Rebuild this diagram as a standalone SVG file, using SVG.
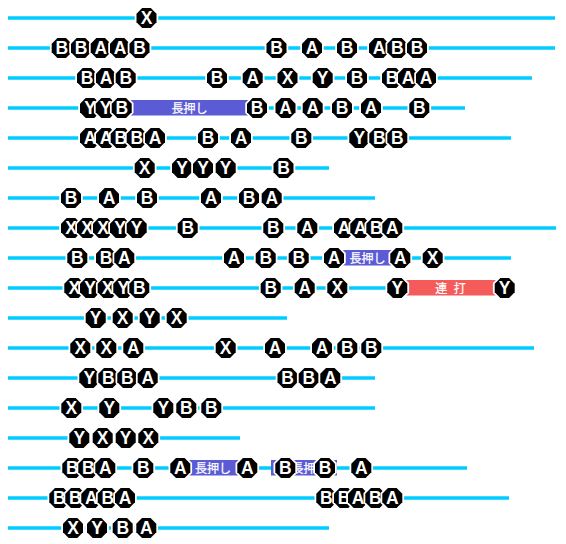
<svg xmlns="http://www.w3.org/2000/svg" width="566" height="544" viewBox="0 0 566 544">
<style>
.l{stroke:#00ccff;stroke-width:3.4;fill:none}
.o{fill:#000;stroke:#fff;stroke-width:3.6;paint-order:stroke}
.t{fill:#fff;font:bold 17.5px "Liberation Sans",Arial,sans-serif;text-anchor:middle}
.b{fill:#5b5bd6}
.r{fill:#f55b5b}
.j{fill:#fff;stroke:#fff;stroke-width:.25;font:12px "Noto Sans CJK JP",sans-serif;text-anchor:middle}
</style>
<defs><polygon id="o" points="-4.300,-10 4.300,-10 10,-4.300 10,4.300 4.300,10 -4.300,10 -10,4.300 -10,-4.300"/></defs>
<g id="connectors">
<path class="l" d="M8 18H555"/>
<path class="l" d="M8 48H555"/>
<path class="l" d="M8 78H532"/>
<path class="l" d="M8 108H465"/>
<path class="l" d="M8 138H511"/>
<path class="l" d="M8 168H329"/>
<path class="l" d="M8 198H375"/>
<path class="l" d="M8 228H556"/>
<path class="l" d="M8 258H511"/>
<path class="l" d="M8 288H505"/>
<path class="l" d="M8 318H287"/>
<path class="l" d="M8 348H534"/>
<path class="l" d="M8 378H375"/>
<path class="l" d="M8 408H375"/>
<path class="l" d="M8 438H240"/>
<path class="l" d="M8 468H467"/>
<path class="l" d="M8 498H509"/>
<path class="l" d="M8 528H329"/>
</g>
<g id="hold-r3"><rect class="b" x="122" y="100" width="135" height="15.500"/><text class="j" x="189.500" y="112.500">長押し</text></g>
<g id="hold-r8"><rect class="b" x="334" y="250" width="66" height="15.500"/><text class="j" x="367.500" y="262.500">長押し</text></g>
<g id="mash-r9"><rect class="r" x="397" y="280" width="108" height="15.500"/><text class="j" x="450.500" y="292.500" word-spacing="4" xml:space="preserve">連 打</text></g>
<g id="hold-r15a"><rect class="b" x="180" y="460" width="67" height="15.500"/><text class="j" x="213" y="472.500">長押し</text></g>
<g id="hold-r15b"><rect class="b" x="271" y="460" width="66" height="15.500"/><text class="j" x="309.500" y="472.500">長押し</text></g>
<g id="n0-0" transform="translate(146.5,18)"><use href="#o" class="o"/><text class="t" y="6.200">X</text></g>
<g id="n1-0" transform="translate(61.7,48)"><use href="#o" class="o"/><text class="t" y="6.200">B</text></g>
<g id="n1-1" transform="translate(81,48)"><use href="#o" class="o"/><text class="t" y="6.200">B</text></g>
<g id="n1-2" transform="translate(100.7,48)"><use href="#o" class="o"/><text class="t" y="6.200">A</text></g>
<g id="n1-3" transform="translate(120,48)"><use href="#o" class="o"/><text class="t" y="6.200">A</text></g>
<g id="n1-4" transform="translate(139.5,48)"><use href="#o" class="o"/><text class="t" y="6.200">B</text></g>
<g id="n1-5" transform="translate(276.500,48)"><use href="#o" class="o"/><text class="t" y="6.200">B</text></g>
<g id="n1-6" transform="translate(312,48)"><use href="#o" class="o"/><text class="t" y="6.200">A</text></g>
<g id="n1-7" transform="translate(347,48)"><use href="#o" class="o"/><text class="t" y="6.200">B</text></g>
<g id="n1-8" transform="translate(379,48)"><use href="#o" class="o"/><text class="t" y="6.200">A</text></g>
<g id="n1-9" transform="translate(397.300,48)"><use href="#o" class="o"/><text class="t" y="6.200">B</text></g>
<g id="n1-10" transform="translate(417,48)"><use href="#o" class="o"/><text class="t" y="6.200">B</text></g>
<g id="n2-0" transform="translate(87,78)"><use href="#o" class="o"/><text class="t" y="6.200">B</text></g>
<g id="n2-1" transform="translate(106,78)"><use href="#o" class="o"/><text class="t" y="6.200">A</text></g>
<g id="n2-2" transform="translate(125.700,78)"><use href="#o" class="o"/><text class="t" y="6.200">B</text></g>
<g id="n2-3" transform="translate(217,78)"><use href="#o" class="o"/><text class="t" y="6.200">B</text></g>
<g id="n2-4" transform="translate(252.700,78)"><use href="#o" class="o"/><text class="t" y="6.200">A</text></g>
<g id="n2-5" transform="translate(287.500,78)"><use href="#o" class="o"/><text class="t" y="6.200">X</text></g>
<g id="n2-6" transform="translate(322.700,78)"><use href="#o" class="o"/><text class="t" y="6.200">Y</text></g>
<g id="n2-7" transform="translate(357,78)"><use href="#o" class="o"/><text class="t" y="6.200">B</text></g>
<g id="n2-8" transform="translate(392,78)"><use href="#o" class="o"/><text class="t" y="6.200">B</text></g>
<g id="n2-9" transform="translate(408,78)"><use href="#o" class="o"/><text class="t" y="6.200">A</text></g>
<g id="n2-10" transform="translate(426,78)"><use href="#o" class="o"/><text class="t" y="6.200">A</text></g>
<g id="n3-0" transform="translate(90,108)"><use href="#o" class="o"/><text class="t" y="6.200">Y</text></g>
<g id="n3-1" transform="translate(105.700,108)"><use href="#o" class="o"/><text class="t" y="6.200">Y</text></g>
<g id="n3-2" transform="translate(121.700,108)"><use href="#o" class="o"/><text class="t" y="6.200">B</text></g>
<g id="n3-3" transform="translate(257,108)"><use href="#o" class="o"/><text class="t" y="6.200">B</text></g>
<g id="n3-4" transform="translate(285.500,108)"><use href="#o" class="o"/><text class="t" y="6.200">A</text></g>
<g id="n3-5" transform="translate(312.700,108)"><use href="#o" class="o"/><text class="t" y="6.200">A</text></g>
<g id="n3-6" transform="translate(342,108)"><use href="#o" class="o"/><text class="t" y="6.200">B</text></g>
<g id="n3-7" transform="translate(371,108)"><use href="#o" class="o"/><text class="t" y="6.200">A</text></g>
<g id="n3-8" transform="translate(419.300,108)"><use href="#o" class="o"/><text class="t" y="6.200">B</text></g>
<g id="n4-0" transform="translate(90,138)"><use href="#o" class="o"/><text class="t" y="6.200">A</text></g>
<g id="n4-1" transform="translate(106,138)"><use href="#o" class="o"/><text class="t" y="6.200">A</text></g>
<g id="n4-2" transform="translate(120.700,138)"><use href="#o" class="o"/><text class="t" y="6.200">B</text></g>
<g id="n4-3" transform="translate(136.700,138)"><use href="#o" class="o"/><text class="t" y="6.200">B</text></g>
<g id="n4-4" transform="translate(155,138)"><use href="#o" class="o"/><text class="t" y="6.200">A</text></g>
<g id="n4-5" transform="translate(208,138)"><use href="#o" class="o"/><text class="t" y="6.200">B</text></g>
<g id="n4-6" transform="translate(241,138)"><use href="#o" class="o"/><text class="t" y="6.200">A</text></g>
<g id="n4-7" transform="translate(301.300,138)"><use href="#o" class="o"/><text class="t" y="6.200">B</text></g>
<g id="n4-8" transform="translate(359.300,138)"><use href="#o" class="o"/><text class="t" y="6.200">Y</text></g>
<g id="n4-9" transform="translate(379.300,138)"><use href="#o" class="o"/><text class="t" y="6.200">B</text></g>
<g id="n4-10" transform="translate(397.300,138)"><use href="#o" class="o"/><text class="t" y="6.200">B</text></g>
<g id="n5-0" transform="translate(144.700,168)"><use href="#o" class="o"/><text class="t" y="6.200">X</text></g>
<g id="n5-1" transform="translate(182,168)"><use href="#o" class="o"/><text class="t" y="6.200">Y</text></g>
<g id="n5-2" transform="translate(203,168)"><use href="#o" class="o"/><text class="t" y="6.200">Y</text></g>
<g id="n5-3" transform="translate(225.700,168)"><use href="#o" class="o"/><text class="t" y="6.200">Y</text></g>
<g id="n5-4" transform="translate(283.500,168)"><use href="#o" class="o"/><text class="t" y="6.200">B</text></g>
<g id="n6-0" transform="translate(71,198)"><use href="#o" class="o"/><text class="t" y="6.200">B</text></g>
<g id="n6-1" transform="translate(109,198)"><use href="#o" class="o"/><text class="t" y="6.200">A</text></g>
<g id="n6-2" transform="translate(147,198)"><use href="#o" class="o"/><text class="t" y="6.200">B</text></g>
<g id="n6-3" transform="translate(211,198)"><use href="#o" class="o"/><text class="t" y="6.200">A</text></g>
<g id="n6-4" transform="translate(249,198)"><use href="#o" class="o"/><text class="t" y="6.200">B</text></g>
<g id="n6-5" transform="translate(271.700,198)"><use href="#o" class="o"/><text class="t" y="6.200">A</text></g>
<g id="n7-0" transform="translate(71,228)"><use href="#o" class="o"/><text class="t" y="6.200">X</text></g>
<g id="n7-1" transform="translate(87,228)"><use href="#o" class="o"/><text class="t" y="6.200">X</text></g>
<g id="n7-2" transform="translate(103,228)"><use href="#o" class="o"/><text class="t" y="6.200">X</text></g>
<g id="n7-3" transform="translate(120,228)"><use href="#o" class="o"/><text class="t" y="6.200">Y</text></g>
<g id="n7-4" transform="translate(136.700,228)"><use href="#o" class="o"/><text class="t" y="6.200">Y</text></g>
<g id="n7-5" transform="translate(187.700,228)"><use href="#o" class="o"/><text class="t" y="6.200">B</text></g>
<g id="n7-6" transform="translate(273.300,228)"><use href="#o" class="o"/><text class="t" y="6.200">B</text></g>
<g id="n7-7" transform="translate(307.300,228)"><use href="#o" class="o"/><text class="t" y="6.200">A</text></g>
<g id="n7-8" transform="translate(344,228)"><use href="#o" class="o"/><text class="t" y="6.200">A</text></g>
<g id="n7-9" transform="translate(360.300,228)"><use href="#o" class="o"/><text class="t" y="6.200">A</text></g>
<g id="n7-10" transform="translate(376.300,228)"><use href="#o" class="o"/><text class="t" y="6.200">B</text></g>
<g id="n7-11" transform="translate(392.300,228)"><use href="#o" class="o"/><text class="t" y="6.200">A</text></g>
<g id="n8-0" transform="translate(77.300,258)"><use href="#o" class="o"/><text class="t" y="6.200">B</text></g>
<g id="n8-1" transform="translate(106,258)"><use href="#o" class="o"/><text class="t" y="6.200">B</text></g>
<g id="n8-2" transform="translate(124.300,258)"><use href="#o" class="o"/><text class="t" y="6.200">A</text></g>
<g id="n8-3" transform="translate(234,258)"><use href="#o" class="o"/><text class="t" y="6.200">A</text></g>
<g id="n8-4" transform="translate(265.700,258)"><use href="#o" class="o"/><text class="t" y="6.200">B</text></g>
<g id="n8-5" transform="translate(298.700,258)"><use href="#o" class="o"/><text class="t" y="6.200">B</text></g>
<g id="n8-6" transform="translate(334,258)"><use href="#o" class="o"/><text class="t" y="6.200">A</text></g>
<g id="n8-7" transform="translate(400.300,258)"><use href="#o" class="o"/><text class="t" y="6.200">A</text></g>
<g id="n8-8" transform="translate(432.700,258)"><use href="#o" class="o"/><text class="t" y="6.200">X</text></g>
<g id="n9-0" transform="translate(74.300,288)"><use href="#o" class="o"/><text class="t" y="6.200">X</text></g>
<g id="n9-1" transform="translate(90,288)"><use href="#o" class="o"/><text class="t" y="6.200">Y</text></g>
<g id="n9-2" transform="translate(107.700,288)"><use href="#o" class="o"/><text class="t" y="6.200">X</text></g>
<g id="n9-3" transform="translate(123.300,288)"><use href="#o" class="o"/><text class="t" y="6.200">Y</text></g>
<g id="n9-4" transform="translate(139.300,288)"><use href="#o" class="o"/><text class="t" y="6.200">B</text></g>
<g id="n9-5" transform="translate(270.700,288)"><use href="#o" class="o"/><text class="t" y="6.200">B</text></g>
<g id="n9-6" transform="translate(304.700,288)"><use href="#o" class="o"/><text class="t" y="6.200">A</text></g>
<g id="n9-7" transform="translate(337.300,288)"><use href="#o" class="o"/><text class="t" y="6.200">X</text></g>
<g id="n9-8" transform="translate(397.300,288)"><use href="#o" class="o"/><text class="t" y="6.200">Y</text></g>
<g id="n9-9" transform="translate(504.700,288)"><use href="#o" class="o"/><text class="t" y="6.200">Y</text></g>
<g id="n10-0" transform="translate(95.700,318)"><use href="#o" class="o"/><text class="t" y="6.200">Y</text></g>
<g id="n10-1" transform="translate(122.700,318)"><use href="#o" class="o"/><text class="t" y="6.200">X</text></g>
<g id="n10-2" transform="translate(149.700,318)"><use href="#o" class="o"/><text class="t" y="6.200">Y</text></g>
<g id="n10-3" transform="translate(176.700,318)"><use href="#o" class="o"/><text class="t" y="6.200">X</text></g>
<g id="n11-0" transform="translate(80.300,348)"><use href="#o" class="o"/><text class="t" y="6.200">X</text></g>
<g id="n11-1" transform="translate(106.300,348)"><use href="#o" class="o"/><text class="t" y="6.200">X</text></g>
<g id="n11-2" transform="translate(133.300,348)"><use href="#o" class="o"/><text class="t" y="6.200">A</text></g>
<g id="n11-3" transform="translate(225.700,348)"><use href="#o" class="o"/><text class="t" y="6.200">X</text></g>
<g id="n11-4" transform="translate(275,348)"><use href="#o" class="o"/><text class="t" y="6.200">A</text></g>
<g id="n11-5" transform="translate(322,348)"><use href="#o" class="o"/><text class="t" y="6.200">A</text></g>
<g id="n11-6" transform="translate(347.300,348)"><use href="#o" class="o"/><text class="t" y="6.200">B</text></g>
<g id="n11-7" transform="translate(371.300,348)"><use href="#o" class="o"/><text class="t" y="6.200">B</text></g>
<g id="n12-0" transform="translate(89.300,378)"><use href="#o" class="o"/><text class="t" y="6.200">Y</text></g>
<g id="n12-1" transform="translate(108.300,378)"><use href="#o" class="o"/><text class="t" y="6.200">B</text></g>
<g id="n12-2" transform="translate(127.300,378)"><use href="#o" class="o"/><text class="t" y="6.200">B</text></g>
<g id="n12-3" transform="translate(147.700,378)"><use href="#o" class="o"/><text class="t" y="6.200">A</text></g>
<g id="n12-4" transform="translate(287.500,378)"><use href="#o" class="o"/><text class="t" y="6.200">B</text></g>
<g id="n12-5" transform="translate(308.700,378)"><use href="#o" class="o"/><text class="t" y="6.200">B</text></g>
<g id="n12-6" transform="translate(330.300,378)"><use href="#o" class="o"/><text class="t" y="6.200">A</text></g>
<g id="n13-0" transform="translate(71.300,408)"><use href="#o" class="o"/><text class="t" y="6.200">X</text></g>
<g id="n13-1" transform="translate(109.300,408)"><use href="#o" class="o"/><text class="t" y="6.200">Y</text></g>
<g id="n13-2" transform="translate(163.300,408)"><use href="#o" class="o"/><text class="t" y="6.200">Y</text></g>
<g id="n13-3" transform="translate(186.300,408)"><use href="#o" class="o"/><text class="t" y="6.200">B</text></g>
<g id="n13-4" transform="translate(211.300,408)"><use href="#o" class="o"/><text class="t" y="6.200">B</text></g>
<g id="n14-0" transform="translate(79.300,438)"><use href="#o" class="o"/><text class="t" y="6.200">Y</text></g>
<g id="n14-1" transform="translate(102.700,438)"><use href="#o" class="o"/><text class="t" y="6.200">X</text></g>
<g id="n14-2" transform="translate(125.700,438)"><use href="#o" class="o"/><text class="t" y="6.200">Y</text></g>
<g id="n14-3" transform="translate(148.300,438)"><use href="#o" class="o"/><text class="t" y="6.200">X</text></g>
<g id="n15-0" transform="translate(72.300,468)"><use href="#o" class="o"/><text class="t" y="6.200">B</text></g>
<g id="n15-1" transform="translate(88.300,468)"><use href="#o" class="o"/><text class="t" y="6.200">B</text></g>
<g id="n15-2" transform="translate(105.300,468)"><use href="#o" class="o"/><text class="t" y="6.200">A</text></g>
<g id="n15-3" transform="translate(143.300,468)"><use href="#o" class="o"/><text class="t" y="6.200">B</text></g>
<g id="n15-4" transform="translate(180.300,468)"><use href="#o" class="o"/><text class="t" y="6.200">A</text></g>
<g id="n15-5" transform="translate(247.300,468)"><use href="#o" class="o"/><text class="t" y="6.200">A</text></g>
<g id="n15-6" transform="translate(285.300,468)"><use href="#o" class="o"/><text class="t" y="6.200">B</text></g>
<g id="n15-7" transform="translate(325,468)"><use href="#o" class="o"/><text class="t" y="6.200">B</text></g>
<g id="n15-8" transform="translate(361.300,468)"><use href="#o" class="o"/><text class="t" y="6.200">A</text></g>
<g id="n16-0" transform="translate(59.300,498)"><use href="#o" class="o"/><text class="t" y="6.200">B</text></g>
<g id="n16-1" transform="translate(75.300,498)"><use href="#o" class="o"/><text class="t" y="6.200">B</text></g>
<g id="n16-2" transform="translate(91.300,498)"><use href="#o" class="o"/><text class="t" y="6.200">A</text></g>
<g id="n16-3" transform="translate(107.700,498)"><use href="#o" class="o"/><text class="t" y="6.200">B</text></g>
<g id="n16-4" transform="translate(125,498)"><use href="#o" class="o"/><text class="t" y="6.200">A</text></g>
<g id="n16-5" transform="translate(326.300,498)"><use href="#o" class="o"/><text class="t" y="6.200">B</text></g>
<g id="n16-6" transform="translate(344,498)"><use href="#o" class="o"/><text class="t" y="6.200">B</text></g>
<g id="n16-7" transform="translate(358,498)"><use href="#o" class="o"/><text class="t" y="6.200">A</text></g>
<g id="n16-8" transform="translate(375.300,498)"><use href="#o" class="o"/><text class="t" y="6.200">B</text></g>
<g id="n16-9" transform="translate(392.300,498)"><use href="#o" class="o"/><text class="t" y="6.200">A</text></g>
<g id="n17-0" transform="translate(73,528)"><use href="#o" class="o"/><text class="t" y="6.200">X</text></g>
<g id="n17-1" transform="translate(97,528)"><use href="#o" class="o"/><text class="t" y="6.200">Y</text></g>
<g id="n17-2" transform="translate(122.700,528)"><use href="#o" class="o"/><text class="t" y="6.200">B</text></g>
<g id="n17-3" transform="translate(146.300,528)"><use href="#o" class="o"/><text class="t" y="6.200">A</text></g>
</svg>
